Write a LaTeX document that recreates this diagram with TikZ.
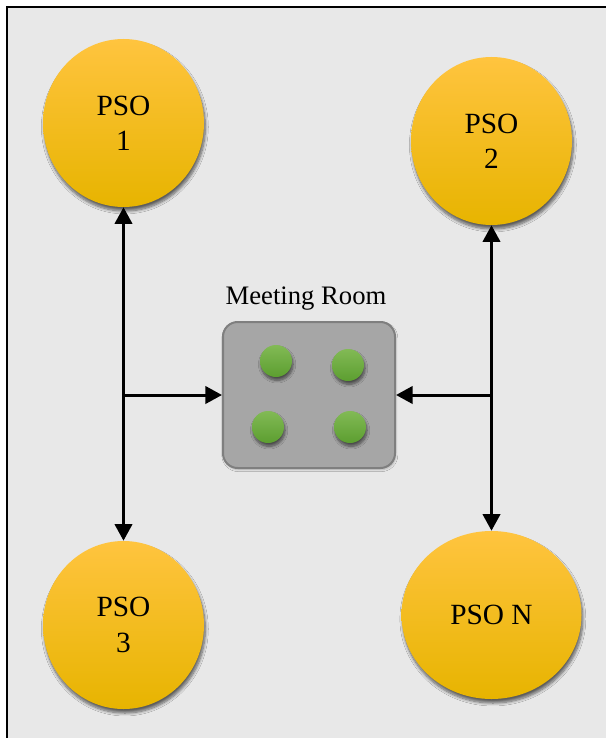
\documentclass[tikz,border=0pt]{standalone}
\usepackage{fontspec}
\setmainfont{Liberation Serif}
\usetikzlibrary{shapes.geometric,arrows.meta,shadows.blur}

\definecolor{panel}{HTML}{E8E8E8}
\definecolor{psoTop}{HTML}{FFC43F}
\definecolor{psoMid}{HTML}{FFC700}
\definecolor{psoBot}{HTML}{E7B400}
\definecolor{roomFill}{HTML}{A6A6A6}
\definecolor{roomEdge}{HTML}{7F7F7F}
\definecolor{seatTop}{HTML}{82BA55}
\definecolor{seatBot}{HTML}{5C9E30}

\tikzset{
  psonode/.style={ellipse, inner sep=0pt, minimum width=120.75pt, minimum height=126pt,
    top color=psoTop, middle color=psoMid, bottom color=psoBot,
    font=\fontsize{22}{26.5}\selectfont, align=center,
    blur shadow={shadow xshift=1pt, shadow yshift=-3pt, shadow blur radius=2.2pt,
      shadow blur steps=8, shadow opacity=60}},
  roomnode/.style={rectangle, rounded corners=11pt, minimum width=129pt, minimum height=109.5pt,
    fill=roomFill, draw=roomEdge, line width=1.5pt,
    blur shadow={shadow xshift=0.6pt, shadow yshift=-1.2pt, shadow blur radius=1.5pt, shadow opacity=25}},
  seat/.style={circle, inner sep=0pt, minimum size=24pt, top color=seatTop, bottom color=seatBot,
    blur shadow={shadow xshift=0.8pt, shadow yshift=-2.5pt, shadow blur radius=2pt,
      shadow blur steps=8, shadow opacity=55}},
  link/.style={line width=2.25pt, black},
  tip/.style={-{Triangle[length=12.5pt,width=13pt]}},
  twotip/.style={{Triangle[length=12.5pt,width=13pt]}-{Triangle[length=12.5pt,width=13pt]}}
}

\begin{document}
\begin{tikzpicture}[x=0.75pt,y=-0.75pt]
  \useasboundingbox (0,0) rectangle (606,738);
  % white page with a framed grey panel running off the right and bottom edges
  \fill[white] (0,0) rectangle (606,738);
  \draw[fill=panel, line width=2.1pt] (7,7) rectangle (640,780);

  % particle swarm groups
  \node[psonode] (p1) at (123.5,123) {PSO\\1};
  \node[psonode] (p2) at (491.5,141) {PSO\\2};
  \node[psonode] (p3) at (123.5,625) {PSO\\3};
  \node[psonode, minimum width=135pt] (pn) at (491.5,615) {PSO N};

  % shared meeting room
  \node[roomnode] (room) at (309,395) {};
  \node[font=\fontsize{20}{24}\selectfont] (roomlabel) at (306,299) {Meeting Room};
  \node[seat] (s1) at (276,361) {};
  \node[seat] (s2) at (348,365) {};
  \node[seat] (s3) at (268,427) {};
  \node[seat] (s4) at (350,427) {};

  % exchange links
  \coordinate (jl) at (123.5,395);
  \coordinate (jr) at (491.5,395);
  \draw[link, twotip] (p1) -- (p3);
  \draw[link, twotip] (p2) -- (pn);
  \draw[link, tip] (jl) -- (room.west);
  \draw[link, tip] (jr) -- (room.east);
\end{tikzpicture}
\end{document}
